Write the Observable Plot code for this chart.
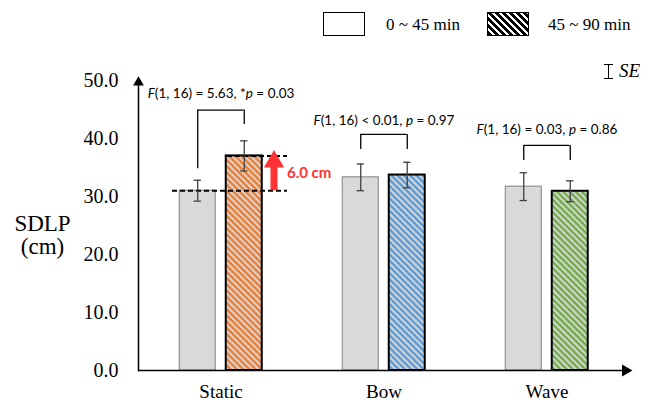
<!DOCTYPE html>
<html>
<head>
<meta charset="utf-8">
<script src="https://cdn.jsdelivr.net/npm/d3@7"></script>
<script src="https://cdn.jsdelivr.net/npm/@observablehq/plot@0.6"></script>
<style>
  html, body { margin: 0; padding: 0; background: #fff; }
  #wrap { position: relative; width: 651px; height: 402px; overflow: hidden; }
  #wrap svg { position: absolute; left: 0; top: 0; }
  .leg { position: absolute; font-family: "Liberation Serif", serif; font-size: 17px; color: #000; white-space: nowrap; }
  .sw { position: absolute; box-sizing: border-box; border: 1.5px solid #000; }
</style>
</head>
<body>
<div id="wrap">
  <div class="sw" style="left:323px;top:12px;width:42px;height:24px;background:#fff"></div>
  <div class="leg" id="l1" style="left:386px;top:15px"></div>
  <div class="sw" style="left:487px;top:12px;width:42px;height:24px;background:repeating-linear-gradient(45deg,#000 0 3px,#fff 3px 5px)"></div>
  <div class="leg" id="l2" style="left:548px;top:15px"></div>
  <div class="leg" style="left:604px;top:64px;width:9px;height:15px;">
    <div style="position:absolute;left:4px;top:1px;width:1.2px;height:13px;background:#000"></div>
    <div style="position:absolute;left:0;top:0;width:9px;height:1.2px;background:#000"></div>
    <div style="position:absolute;left:0;top:14px;width:9px;height:1.2px;background:#000"></div>
  </div>
  <div class="leg" id="se" style="left:619px;top:60px;font-style:italic;font-size:19px"></div>
</div>
<script>
// ---- data ----
const categories = ["Static", "Bow", "Wave"];
const periods = ["0 ~ 45 min", "45 ~ 90 min"];
const meanEarly = [31.0, 33.3, 31.7];
const seEarly = [1.8, 2.3, 2.4];
const meanLate = [37.0, 33.7, 30.9];
const seLate = [2.6, 2.2, 1.8];
const lateColors = ["#ED7D31", "#5B9BD5", "#70AD47"];
const statTexts = ["F(1, 16) = 5.63, *p = 0.03", "F(1, 16) < 0.01, p = 0.97", "F(1, 16) = 0.03, p = 0.86"];
const statTextY = [47.8, 43.1, 41.6];
const bracketTop = [44.9, 40.7, 38.8];
const bracketLeftBottom = [34.8, 38.1, 36.2];
const bracketRightBottom = [42.4, 38.1, 36.2];
const yTicks = [0, 10, 20, 30, 40, 50];
const diffLabel = "6.0 cm";
const yLabel = "SDLP\n(cm)";

document.getElementById("l1").textContent = periods[0];
document.getElementById("l2").textContent = periods[1];
document.getElementById("se").textContent = "SE";

const rows = categories.map((c, i) => ({
  cat: c, early: meanEarly[i], seE: seEarly[i], late: meanLate[i], seL: seLate[i],
  fillLate: `url(#hatch-${i})`, txt: statTexts[i], ty: statTextY[i],
  bt: bracketTop[i], bl: bracketLeftBottom[i], br: bracketRightBottom[i]
}));
const staticRow = rows.filter(d => d.cat === "Static");

const serif = "Liberation Serif, Times New Roman, serif";
const sans = "Lato, Noto Sans, sans-serif";
const half = 23.25;
const bandHalf = 81.83;

const chart = Plot.plot({
  width: 651, height: 402,
  marginLeft: 138, marginRight: 22, marginTop: 80, marginBottom: 32,
  style: {fontFamily: serif, background: "transparent", overflow: "visible"},
  x: {domain: categories, padding: 0, label: null},
  y: {domain: [0, 50], label: null},
  marks: [
    Plot.axisY({ticks: yTicks, tickSize: 0, tickPadding: 20, tickFormat: d3.format(".1f"), fontSize: 20, fontFamily: serif}),
    Plot.axisX({tickSize: 0, tickPadding: 14, fontSize: 19, fontFamily: serif, label: null}),
    Plot.text([yLabel], {frameAnchor: "left", dx: -96, dy: 10, fontSize: 23, fontFamily: serif, textAnchor: "middle", lineHeight: 1}),
    // bars
    Plot.barY(rows, {x: "cat", y: "early", insetLeft: 40.25, insetRight: 86.75, fill: "#D9D9D9", stroke: "#808080", strokeWidth: 1}),
    Plot.barY(rows, {x: "cat", y: "late", insetLeft: 86.75, insetRight: 40.25, fill: "fillLate", stroke: "#000", strokeWidth: 2}),
    // dashed reference lines
    Plot.tickY(staticRow, {x: "cat", y: "early", insetLeft: 33, insetRight: 15, stroke: "#000", strokeWidth: 2, strokeDasharray: "5,3"}),
    Plot.tickY(staticRow, {x: "cat", y: "late", insetLeft: 88, insetRight: 15, stroke: "#000", strokeWidth: 2, strokeDasharray: "5,3"}),
    // error bars
    Plot.ruleX(rows, {x: "cat", y1: d => d.early - d.seE, y2: d => d.early + d.seE, dx: -half, stroke: "#404040", strokeWidth: 1.3}),
    Plot.tickY(rows, {x: "cat", y: d => d.early + d.seE, dx: -half, insetLeft: bandHalf - 4, insetRight: bandHalf - 4, stroke: "#404040", strokeWidth: 1.3}),
    Plot.tickY(rows, {x: "cat", y: d => d.early - d.seE, dx: -half, insetLeft: bandHalf - 4, insetRight: bandHalf - 4, stroke: "#404040", strokeWidth: 1.3}),
    Plot.ruleX(rows, {x: "cat", y1: d => d.late - d.seL, y2: d => d.late + d.seL, dx: half, stroke: "#404040", strokeWidth: 1.3}),
    Plot.tickY(rows, {x: "cat", y: d => d.late + d.seL, dx: half, insetLeft: bandHalf - 4, insetRight: bandHalf - 4, stroke: "#404040", strokeWidth: 1.3}),
    Plot.tickY(rows, {x: "cat", y: d => d.late - d.seL, dx: half, insetLeft: bandHalf - 4, insetRight: bandHalf - 4, stroke: "#404040", strokeWidth: 1.3}),
    // brackets
    Plot.tickY(rows, {x: "cat", y: "bt", insetLeft: bandHalf - half, insetRight: bandHalf - half, stroke: "#000", strokeWidth: 1.3}),
    Plot.ruleX(rows, {x: "cat", y1: "bl", y2: "bt", dx: -half, stroke: "#000", strokeWidth: 1.3}),
    Plot.ruleX(rows, {x: "cat", y1: "br", y2: "bt", dx: half, stroke: "#000", strokeWidth: 1.3}),
    Plot.text(rows, {x: "cat", y: "ty", text: "txt", fontSize: 13.5, fontFamily: sans, className: "stat", fill: "#000"}),
    // red difference arrow
    Plot.ruleX(staticRow, {x: "cat", y1: "early", y2: d => d.late - 2.0, dx: 53, stroke: "#FF3333", strokeWidth: 7}),
    Plot.dot(staticRow, {x: "cat", y: d => d.late - 1.0, dx: 53, symbol: "triangle", r: 7.5, fill: "#FF3333", stroke: "none"}),
    Plot.text(staticRow, {x: "cat", y: d => (d.early + d.late) / 2, text: () => diffLabel, dx: 66, textAnchor: "start", fill: "#FF3333", fontWeight: "bold", fontSize: 15, fontFamily: sans}),
    // axes lines with arrow heads
    Plot.ruleY([0], {stroke: "#000", strokeWidth: 1.5}),
    Plot.frame({anchor: "left", stroke: "#000", strokeWidth: 1.5}),
    Plot.dot([50], {y: d => d, frameAnchor: "left", symbol: "triangle", r: 4, fill: "#000", stroke: "none", dy: 2}),
    Plot.dot([0], {y: d => d, frameAnchor: "right", symbol: "triangle", r: 4.5, fill: "#000", stroke: "none", rotate: 90, dx: -4})
  ]
});

// patterns for hatched bars
const defs = d3.select(chart).insert("defs", ":first-child");
lateColors.forEach((c, i) => {
  const p = defs.append("pattern").attr("id", `hatch-${i}`).attr("patternUnits", "userSpaceOnUse")
    .attr("width", 4.4).attr("height", 4.4).attr("patternTransform", "rotate(-45)");
  p.append("rect").attr("width", 4.4).attr("height", 4.4).attr("fill", c);
  p.append("rect").attr("width", 2).attr("height", 4.4).attr("fill", "#D6D6D6");
});

// italic F and p in statistic labels
d3.select(chart).selectAll(".stat text").each(function() {
  const t = d3.select(this);
  const s = t.text();
  t.text(null);
  const parts = s.split(/(F|p)/).filter(x => x !== "");
  parts.forEach(part => {
    const ts = t.append("tspan").text(part);
    if (part === "F" || part === "p") ts.attr("font-style", "italic");
  });
});

document.getElementById("wrap").appendChild(chart);
</script>
</body>
</html>
